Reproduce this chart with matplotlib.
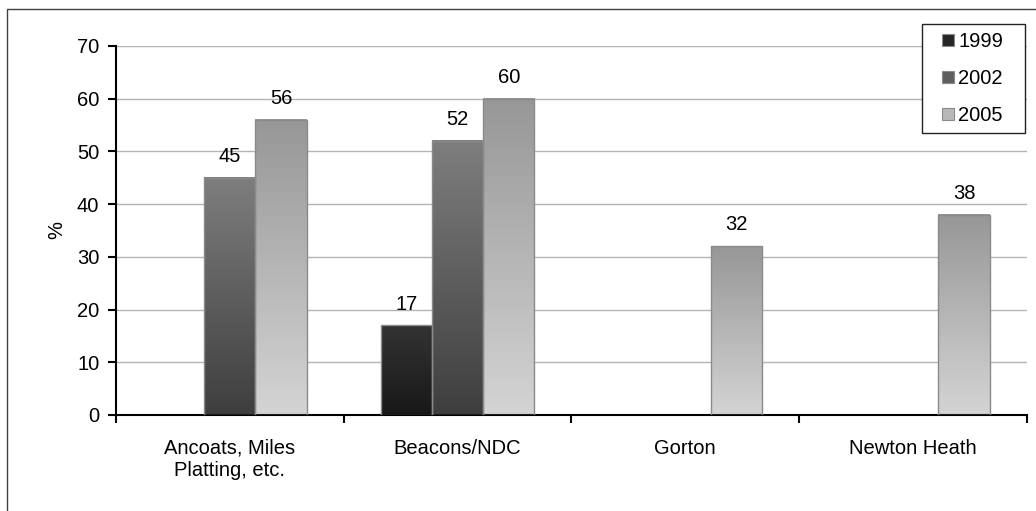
import matplotlib.pyplot as plt
import matplotlib.colors as mcolors
from matplotlib.patches import Rectangle
import numpy as np

plt.rcParams['font.family'] = ['Liberation Sans', 'DejaVu Sans']

areas = ['Ancoats, Miles\nPlatting, etc.', 'Beacons/NDC', 'Gorton', 'Newton Heath']
years = ['1999', '2002', '2005']
v1999 = [None, 17, None, None]
v2002 = [45, 52, None, None]
v2005 = [56, 60, 32, 38]

# top colour, bottom colour of each series gradient
shades = {
    '1999': ('#333333', '#181818'),
    '2002': ('#7e7e7e', '#3e3e3e'),
    '2005': ('#979797', '#d4d4d4'),
}
legend_colors = {'1999': '#262626', '2002': '#5e5e5e', '2005': '#b8b8b8'}

W, H = 1036, 511
fig = plt.figure(figsize=(W / 100, H / 100), dpi=100)
ax = fig.add_axes([0.112, 0.188, 0.879, 0.722])

width = 0.225
x = np.arange(len(areas)) + 0.5
series = [v1999, v2002, v2005]

for i, (yr, vals) in enumerate(zip(years, series)):
    pos = [x[j] + (i - 1) * width for j in range(len(areas)) if vals[j] is not None]
    hts = [v for v in vals if v is not None]
    bars = ax.bar(pos, hts, width, color='none', edgecolor='#8a8a8a',
                  linewidth=1, zorder=3)
    cmap = mcolors.LinearSegmentedColormap.from_list(yr, [shades[yr][1], shades[yr][0]])
    for b, h in zip(bars, hts):
        grad = np.linspace(0, 1, 256).reshape(-1, 1)
        ax.imshow(grad, cmap=cmap, origin='lower', aspect='auto', zorder=2,
                  extent=[b.get_x(), b.get_x() + b.get_width(), 0, b.get_height()])
        ax.annotate(f'{h}', (b.get_x() + b.get_width() / 2, h),
                    xytext=(0, 8.5), textcoords='offset points',
                    ha='center', va='bottom', fontsize=14.5)

ax.set_xlim(0, len(areas))
ax.set_ylim(0, 70)
ax.set_yticks(range(0, 71, 10))
ax.yaxis.grid(True, color='#b4b4b4', linewidth=1)
ax.set_axisbelow(True)

ax.set_xticks(range(len(areas) + 1))
ax.set_xticklabels([])
ax.set_xticks(x, minor=True)
ax.set_xticklabels(areas, minor=True, fontsize=14.5)
ax.tick_params(axis='x', which='minor', length=0, pad=17)
ax.tick_params(axis='x', which='major', length=6, width=1.5, direction='out')
ax.tick_params(axis='y', length=6, width=1.5, direction='out', labelsize=14.5, pad=6)

for s in ['top', 'right']:
    ax.spines[s].set_visible(False)
ax.spines['left'].set_linewidth(1.5)
ax.spines['bottom'].set_linewidth(1.5)
ax.set_ylabel('%', fontsize=14.5, labelpad=8)

handles = [Rectangle((0, 0), 1, 1, facecolor=legend_colors[y], edgecolor='#8a8a8a',
                     linewidth=0.8) for y in years]
leg = fig.legend(handles, years, loc='center',
                 bbox_to_anchor=(972.5 / W, 1 - 78.5 / H),
                 fontsize=14.5, frameon=False, borderpad=0, borderaxespad=0,
                 handlelength=0.6, handleheight=0.55, handletextpad=0.2,
                 labelspacing=0.9)

# legend box drawn around the entries with wider side padding
fig.canvas.draw()
bb = leg.get_window_extent()
fig.add_artist(Rectangle(((bb.x0 - 20) / W, (bb.y0 - 8) / H),
                         (bb.width + 42) / W, (bb.height + 16) / H,
                         transform=fig.transFigure, facecolor='white',
                         edgecolor='#222222', linewidth=1, zorder=4))
leg.set_zorder(5)

# chart frame, open on the right and bottom
fig.add_artist(Rectangle((7 / W, -0.2), 1.2, 1.2 - 9 / H,
                         transform=fig.transFigure, fill=False,
                         edgecolor='#404040', linewidth=1))

fig.savefig('out.png', dpi=100)
